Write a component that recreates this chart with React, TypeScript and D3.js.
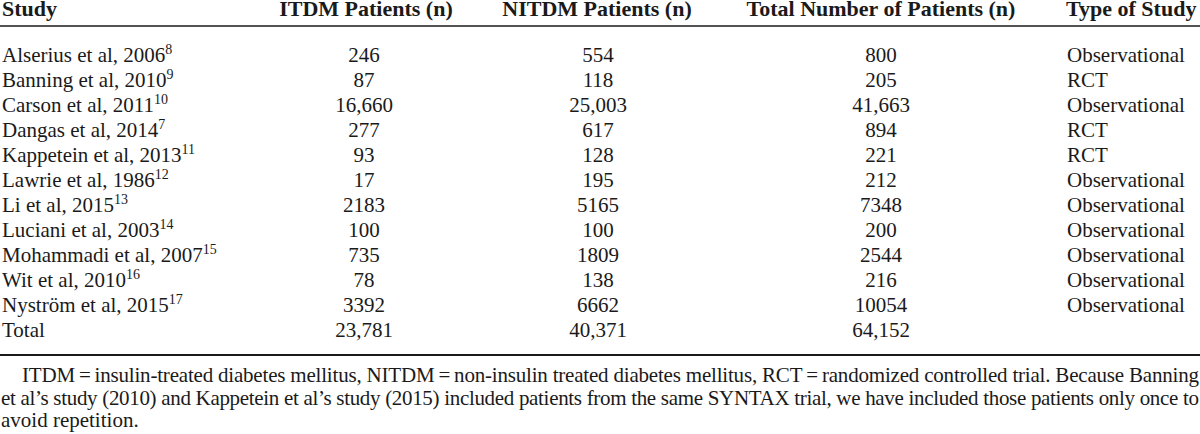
import React from "react";
import * as d3 from "d3";

const studies = [
  "Alserius et al, 2006",
  "Banning et al, 2010",
  "Carson et al, 2011",
  "Dangas et al, 2014",
  "Kappetein et al, 2013",
  "Lawrie et al, 1986",
  "Li et al, 2015",
  "Luciani et al, 2003",
  "Mohammadi et al, 2007",
  "Wit et al, 2010",
  "Nyström et al, 2015",
  "Total",
];
const refs = ["8", "9", "10", "7", "11", "12", "13", "14", "15", "16", "17", ""];
const itdm = ["246", "87", "16,660", "277", "93", "17", "2183", "100", "735", "78", "3392", "23,781"];
const nitdm = ["554", "118", "25,003", "617", "128", "195", "5165", "100", "1809", "138", "6662", "40,371"];
const totals = ["800", "205", "41,663", "894", "221", "212", "7348", "200", "2544", "216", "10054", "64,152"];
const types = [
  "Observational", "RCT", "Observational", "RCT", "RCT", "Observational",
  "Observational", "Observational", "Observational", "Observational", "Observational", "",
];
const headers = ["Study", "ITDM Patients (n)", "NITDM Patients (n)", "Total Number of Patients (n)", "Type of Study"];
const footnotes = [
  "ITDM\u2009=\u2009insulin-treated diabetes mellitus, NITDM\u2009=\u2009non-insulin treated diabetes mellitus, RCT\u2009=\u2009randomized controlled trial. Because Banning",
  "et al\u2019s study (2010) and Kappetein et al\u2019s study (2015) included patients from the same SYNTAX trial, we have included those patients only once to",
  "avoid repetition.",
];

const W = 1200;
const H = 434;
const FONT = "'Liberation Serif', 'Times New Roman', Times, serif";
const FS = 21;
const COLOR = "#1a1a1a";

export default function App() {
  const y = d3.scaleLinear().domain([0, studies.length - 1]).range([62, 337]);
  const colX = { study: 2, itdm: 364, nitdm: 598, total: 881, type: 1067 };
  const fy = d3.scaleLinear().domain([0, footnotes.length - 1]).range([382, 427]);

  return (
    <svg
      width={W}
      height={H}
      style={{ position: "absolute", left: 0, top: 0, background: "#fff" }}
      fontFamily={FONT}
      fontSize={FS}
      fill={COLOR}
    >
      <rect width={W} height={H} fill="#fff" />
      {/* header */}
      <g fontWeight="bold" fontSize={22}>
        <text x={colX.study} y={16}>{headers[0]}</text>
        <text x={colX.itdm + 2} y={16} textAnchor="middle">{headers[1]}</text>
        <text x={colX.nitdm - 1} y={16} textAnchor="middle">{headers[2]}</text>
        <text x={colX.total} y={16} textAnchor="middle">{headers[3]}</text>
        <text x={colX.type - 1} y={16}>{headers[4]}</text>
      </g>
      <line x1={0} x2={W} y1={26} y2={26} stroke={COLOR} strokeWidth={1.5} />

      {studies.map((s, i) => (
        <g key={s}>
          <text x={colX.study} y={y(i)}>
            {s}
            {refs[i] && (
              <tspan fontSize={14} dy={-8}>{refs[i]}</tspan>
            )}
          </text>
          <text x={colX.itdm} y={y(i)} textAnchor="middle">{itdm[i]}</text>
          <text x={colX.nitdm} y={y(i)} textAnchor="middle">{nitdm[i]}</text>
          <text x={colX.total} y={y(i)} textAnchor="middle">{totals[i]}</text>
          <text x={colX.type} y={y(i)}>{types[i]}</text>
        </g>
      ))}

      <line x1={0} x2={W} y1={355} y2={355} stroke={COLOR} strokeWidth={1.8} />

      {footnotes.map((f, i) => {
        const x0 = i === 0 ? 22 : 1;
        const justify = i < footnotes.length - 1;
        return (
          <text
            key={i}
            x={x0}
            y={fy(i)}
            {...(justify ? { textLength: 1199 - x0, lengthAdjust: "spacing" } : {})}
          >
            {f}
          </text>
        );
      })}
    </svg>
  );
}
